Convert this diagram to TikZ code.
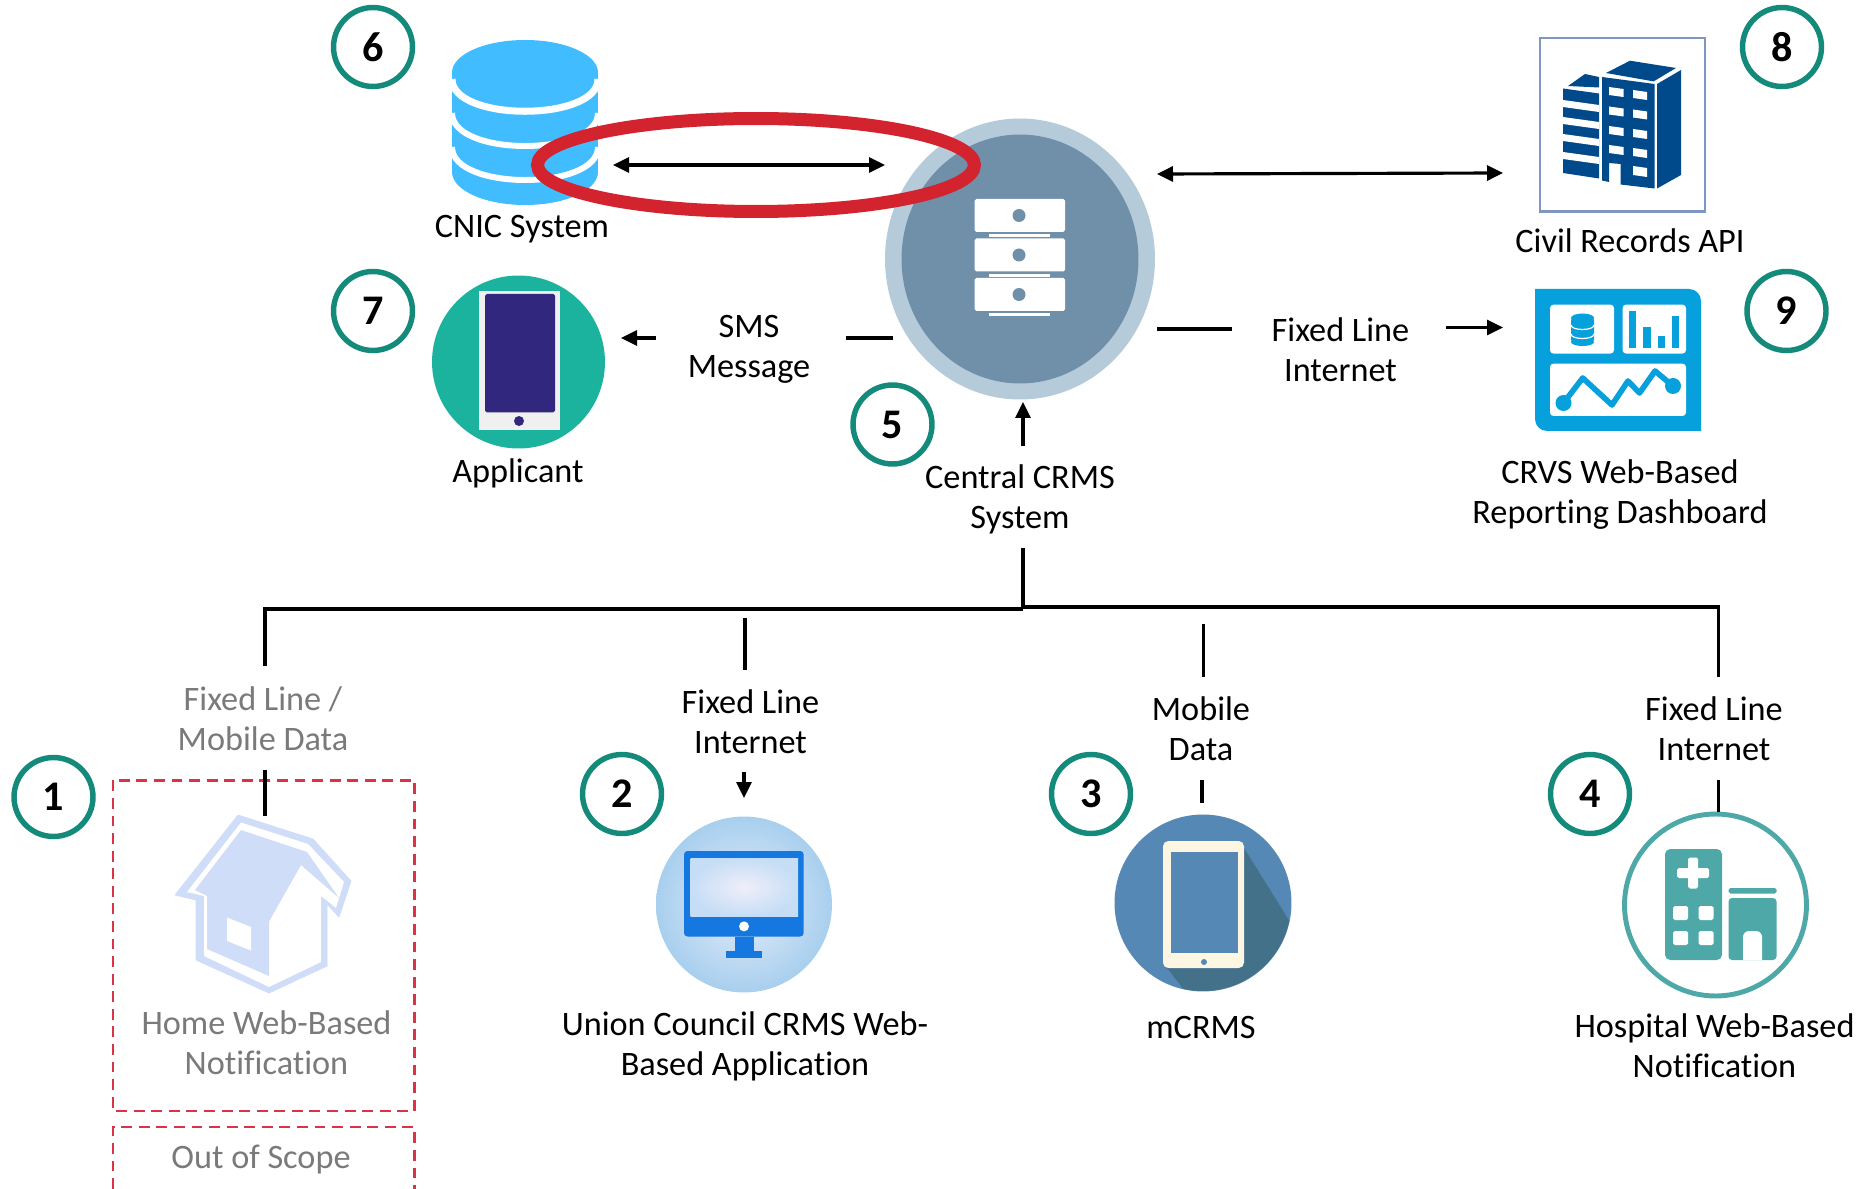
\documentclass[tikz,border=0pt]{standalone}
\usepackage{fontspec}
\setmainfont{Carlito}[Ligatures=NoCommon]
\usetikzlibrary{arrows.meta,shapes.geometric}
\definecolor{badgeteal}{HTML}{138A7A}
\definecolor{dbblue}{HTML}{41BCFF}
\definecolor{ringred}{HTML}{D2232E}
\definecolor{dashred}{HTML}{DB3345}
\definecolor{crmsouter}{HTML}{B6CBD9}
\definecolor{crmsinner}{HTML}{7090AA}
\definecolor{phonegreen}{HTML}{1BB39E}
\definecolor{phoneink}{HTML}{32277F}
\definecolor{towerblue}{HTML}{004A8C}
\definecolor{boxedge}{HTML}{7F96C2}
\definecolor{dashblue}{HTML}{06A0DC}
\definecolor{houseblue}{HTML}{CFDDF8}
\definecolor{pcblue}{HTML}{1478E0}
\definecolor{pcmid}{HTML}{E6EDFA}
\definecolor{pcrim}{HTML}{A8CFEE}
\definecolor{pcglow}{HTML}{F0EEFA}
\definecolor{pcedge}{HTML}{C6DEF5}
\definecolor{tabletblue}{HTML}{5588B5}
\definecolor{tabletshade}{HTML}{43718A}
\definecolor{tabletbody}{HTML}{FDF6E3}
\definecolor{hospteal}{HTML}{4FA8A8}
\tikzset{
  badge/.style={circle,draw=badgeteal,line width=3.1pt,fill=white,minimum size=1.58cm,inner sep=0pt,
    font=\fontsize{24}{24}\selectfont\bfseries},
  txt/.style={align=center,inner sep=0pt,font=\fontsize{19.5}{22.9}\selectfont},
  greytxt/.style={txt,text=black!52},
  wire/.style={line width=1.8pt},
  link/.style={line width=1.8pt,-{Triangle[length=0.32cm,width=0.3cm]}},
  biglink/.style={line width=1.8pt,{Triangle[length=0.32cm,width=0.3cm]}-{Triangle[length=0.32cm,width=0.3cm]}},
  oval/.style={ellipse,inner sep=0pt,outer sep=0pt},
  dashbox/.style={draw=dashred,line width=1.7pt,dash pattern=on 6.2pt off 3.8pt}
}
\begin{document}
\begin{tikzpicture}[x=0.02cm,y=-0.02cm]
  \useasboundingbox (0,0) rectangle (1874,1189);
  \fill[white] (0,0) rectangle (1874,1189);

  \fill[dbblue] (452,72) rectangle (598,172);
  \fill[dbblue] (525,172) ellipse [x radius=73,y radius=33];
  \fill[dbblue] (525,72.5) ellipse [x radius=73,y radius=32.5];
  \draw[white,line width=4pt] (452,79) .. controls (452,122) and (598,122) .. (598,79);
  \draw[white,line width=3.4pt] (452,113) .. controls (452,157) and (598,157) .. (598,113);
  \draw[white,line width=3.4pt] (452,147) .. controls (452,191) and (598,191) .. (598,147);
  \node[txt] (cnictxt) at (522,229) {CNIC System};

  \node[oval,fill=crmsouter,minimum width=5.4cm,minimum height=5.62cm] (crms) at (1020,259) {};
  \node[oval,fill=crmsinner,minimum width=4.74cm,minimum height=4.98cm] (crmscore) at (1020,259) {};
  \foreach \yy in {199,238.5,278} {
    \fill[white,rounded corners=1pt] (974.5,\yy) rectangle (1065,\yy+33);
    \fill[white] (989,\yy+35.5) rectangle (1050,\yy+38.5);
    \fill[crmsinner] (1019,\yy+16.5) circle [radius=6.5];
  }
  \node[oval,draw=ringred,line width=7.4pt,minimum width=8.74cm,minimum height=1.86cm] (ring) at (756,165) {};
  \node[txt] (crmstxt) at (1020,499.5) {Central CRMS\\System};

  \node[circle,fill=phonegreen,minimum size=3.46cm,inner sep=0pt] (applicant) at (518.5,362) {};
  \fill[black!6] (479,291) rectangle (559.5,430);
  \fill[phoneink,rounded corners=1pt] (485,294) rectangle (555,412.5);
  \fill[phoneink] (519,421) circle [radius=5];
  \node[txt] (applicanttxt) at (518,473) {Applicant};

  \draw[boxedge,line width=1.4pt,fill=white] (1540,38) rectangle (1705,211.5);
  \fill[towerblue] (1568,86) -- (1585,74) -- (1599,77) -- (1599,87.5) -- cycle;
  \fill[towerblue] (1563,88.5) -- (1599,93.5) -- (1599,178.5) -- (1563,173) -- cycle;
  \foreach \yy in {100,117,134,152} {
    \fill[white] (1563,\yy) -- (1599,\yy+5) -- (1599,\yy+12) -- (1563,\yy+7) -- cycle;
  }
  \fill[towerblue] (1606,73) -- (1630,60.7) -- (1676,68) -- (1653.6,81.4) -- cycle;
  \fill[towerblue] (1602,77) -- (1654.5,84) -- (1654.5,188.5) -- (1620.5,184.5) -- (1620.5,164) -- (1609,163) -- (1609,182) -- (1602,180.5) -- cycle;
  \fill[towerblue] (1657,84) -- (1681,70) -- (1681,175) -- (1657,188.5) -- cycle;
  \foreach \yy in {87,106.5,126,145} {
    \fill[white] (1609,\yy) -- (1623.5,\yy+2) -- (1623.5,\yy+10) -- (1609,\yy+8) -- cycle;
    \fill[white] (1633,\yy+3) -- (1647,\yy+5) -- (1647,\yy+13) -- (1633,\yy+11) -- cycle;
  }
  \fill[white] (1633,166) -- (1647,168) -- (1647,177) -- (1633,175) -- cycle;
  \node[txt] (apitxt) at (1630,241) {Civil Records API};

  \fill[dashblue,rounded corners=0pt] (1535,289) -- (1689,289) to[out=0,in=90] (1701,301) -- (1701,431) -- (1547,431) to[out=180,in=-90] (1535,419) -- cycle;
  \fill[white,rounded corners=2pt] (1550,304.6) rectangle (1614,353.6);
  \fill[white,rounded corners=2pt] (1622.6,304.6) rectangle (1686,353.6);
  \fill[white,rounded corners=2pt] (1550,363.6) rectangle (1686,416);
  \fill[dashblue,rounded corners=2pt] (1571,317) rectangle (1594,343);
  \fill[dashblue] (1582.5,318) ellipse [x radius=11.5,y radius=4.5];
  \fill[dashblue] (1582.5,342) ellipse [x radius=11.5,y radius=4];
  \draw[white,line width=0.7pt] (1571,325) .. controls (1571,331) and (1594,331) .. (1594,325);
  \draw[white,line width=0.7pt] (1571,334) .. controls (1571,340) and (1594,340) .. (1594,334);
  \fill[dashblue] (1628.6,311) rectangle (1636.4,348);
  \fill[dashblue] (1643,327.5) rectangle (1650.6,348);
  \fill[dashblue] (1658,335.7) rectangle (1665,348);
  \fill[dashblue] (1672,316) rectangle (1679.4,348);
  \draw[dashblue,line width=3.2pt,line join=round] (1563.5,403) -- (1582.7,378) -- (1612,405) -- (1628,381) -- (1639.5,393) -- (1655,371) -- (1673,386);
  \fill[dashblue] (1563.5,403) circle [radius=8];
  \fill[dashblue] (1673,386) circle [radius=8];
  \node[txt] (crvstxt) at (1620,494.5) {CRVS Web-Based\\Reporting Dashboard};

  \filldraw[houseblue] (238,815) -- (313,839) -- (351,881) -- (339,917) -- (327,904) -- (327,966) -- (269,993) -- (196,960) -- (196,900) -- (175,895) -- cycle;
  \fill[white] (241,822.5) -- (308,844) -- (344,882) -- (336,908) -- (321,896) -- (321,962) -- (269,987) -- (204,956) -- (204,896) -- (187,892) -- cycle;
  \fill[houseblue] (241,830) -- (307,852) -- (339,898) -- (301,865) -- (269,921.5) -- (269,976) -- (207,949) -- (207,896) -- (195,890) -- cycle;
  \fill[white] (227,917.5) -- (251,927) -- (251,950.5) -- (227,941) -- cycle;
  \node[greytxt] (hometxt) at (266.5,1042.5) {Home Web-Based\\Notification};
  \draw[dashbox] (113,780.4) rectangle (414.5,1111);
  \draw[dashbox] (113,1189) -- (113,1127) -- (414.5,1127) -- (414.5,1189);
  \node[greytxt] (scopetxt) at (261,1160) {Out of Scope};

  \node[circle,inner color=pcmid,outer color=pcrim,minimum size=3.52cm,inner sep=0pt] (union) at (744,904.5) {};
  \fill[pcblue,rounded corners=2pt] (684,851) rectangle (803.7,936.5);
  \shade[inner color=pcglow,outer color=pcedge] (690.6,858.5) rectangle (798,916);
  \fill[white] (744,926.4) circle [radius=5];
  \fill[pcblue] (735,936.5) rectangle (754,951);
  \fill[pcblue] (726,951) rectangle (762,958);
  \node[txt] (uniontxt) at (745,1046) {Union Council CRMS Web-\\Based Application};

  \node[circle,fill=tabletblue,minimum size=3.54cm,inner sep=0pt] (mcrms) at (1203,903) {};
  \begin{scope}
    \clip (1203,903) circle [radius=88];
    \fill[tabletshade] (1244,848) -- (1295,930) -- (1295,1000) -- (1192,1000) -- (1167,968) -- cycle;
  \end{scope}
  \fill[tabletbody,rounded corners=3pt] (1163,841) rectangle (1244,968);
  \fill[tabletblue] (1170.6,852.4) rectangle (1237.5,953);
  \fill[tabletblue] (1204,962) circle [radius=3];
  \node[txt] (mcrmstxt) at (1201,1027.5) {mCRMS};

  \node[circle,draw=hospteal,line width=2.8pt,fill=white,minimum size=3.64cm,inner sep=0pt] (hospital) at (1715.5,905) {};
  \fill[hospteal,rounded corners=3pt] (1665,849) rectangle (1722,960);
  \fill[white,rounded corners=1pt] (1677,868) rectangle (1709,878);
  \fill[white,rounded corners=1pt] (1688,857.5) rectangle (1698,888.5);
  \foreach \xx in {1673,1698.5} {
    \fill[white,rounded corners=1pt] (\xx,906) rectangle (\xx+15,920);
    \fill[white,rounded corners=1pt] (\xx,931) rectangle (\xx+15,945);
  }
  \fill[hospteal,rounded corners=1pt] (1728.5,888) rectangle (1776.5,893.5);
  \fill[hospteal,rounded corners=2pt] (1728.5,898) rectangle (1776.5,960);
  \fill[white] (1743,960) -- (1743,937) to[out=90,in=180] (1749,931) -- (1756,931) to[out=0,in=90] (1762,937) -- (1762,960) -- cycle;
  \node[txt] (hosptxt) at (1714.5,1046) {Hospital Web-Based\\Notification};

  \node[txt] (smstxt) at (749,349) {SMS\\Message};
  \node[txt] (fixedtxt) at (1340.5,350) {Fixed Line\\Internet};
  \node[greytxt] (homenet) at (263,719) {Fixed Line /\\Mobile Data};
  \node[txt] (unionnet) at (750.5,722) {Fixed Line\\Internet};
  \node[txt] (mcrmsnet) at (1201,729) {Mobile\\Data};
  \node[txt] (hospnet) at (1714,729) {Fixed Line\\Internet};

  \node[badge] (one) at (53.5,797) {1};
  \node[badge] (two) at (622,794) {2};
  \node[badge] (three) at (1091,794) {3};
  \node[badge] (four) at (1590,794) {4};
  \node[badge] (five) at (892.5,424.5) {5};
  \node[badge] (six) at (373,47) {6};
  \node[badge] (seven) at (373,311) {7};
  \node[badge] (eight) at (1782,47) {8};
  \node[badge] (nine) at (1786.5,311) {9};

  \coordinate (cnicend) at (613,165);
  \coordinate (crmsend) at (885,165);
  \coordinate (apileft) at (1157,174);
  \coordinate (apiright) at (1503,173);
  \coordinate (smsa) at (893,338);
  \coordinate (smsb) at (846,338);
  \coordinate (smsc) at (656,338);
  \coordinate (smsd) at (621,338);
  \coordinate (neta) at (1157,329);
  \coordinate (netb) at (1232,329);
  \coordinate (netc) at (1446,327.5);
  \coordinate (netd) at (1503,327.5);
  \coordinate (upa) at (1023,446);
  \coordinate (upb) at (1023,402);
  \coordinate (stem) at (1023,548);
  \coordinate (busmid) at (1023,609);
  \coordinate (busmidr) at (1023,607);
  \coordinate (busleft) at (265,609);
  \coordinate (homea) at (265,666);
  \coordinate (homeb) at (265,769.5);
  \coordinate (homec) at (265,816);
  \coordinate (busright) at (1718.5,607);
  \coordinate (hospa) at (1718.5,677);
  \coordinate (hospb) at (1718.5,780);
  \coordinate (hospc) at (1718.5,812);
  \coordinate (unia) at (745,618);
  \coordinate (unib) at (745,670);
  \coordinate (unic) at (744,772);
  \coordinate (unid) at (744,798);
  \coordinate (moba) at (1203.5,623.5);
  \coordinate (mobb) at (1203.5,677);
  \coordinate (mobc) at (1202,780);
  \coordinate (mobd) at (1202,803);

  \draw[biglink] (cnicend) -- (crmsend);
  \draw[biglink] (apileft) -- (apiright);
  \draw[wire] (smsa) -- (smsb);
  \draw[link] (smsc) -- (smsd);
  \draw[wire] (neta) -- (netb);
  \draw[link] (netc) -- (netd);
  \draw[link] (upa) -- (upb);
  \draw[wire] (stem) -- (busmid);
  \draw[wire] (homea) -- (busleft) -- (busmid);
  \draw[wire] (busmidr) -- (busright) -- (hospa);
  \draw[wire] (homeb) -- (homec);
  \draw[wire] (hospb) -- (hospc);
  \draw[wire] (unia) -- (unib);
  \draw[link] (unic) -- (unid);
  \draw[wire] (moba) -- (mobb);
  \draw[wire] (mobc) -- (mobd);
\end{tikzpicture}
\end{document}
